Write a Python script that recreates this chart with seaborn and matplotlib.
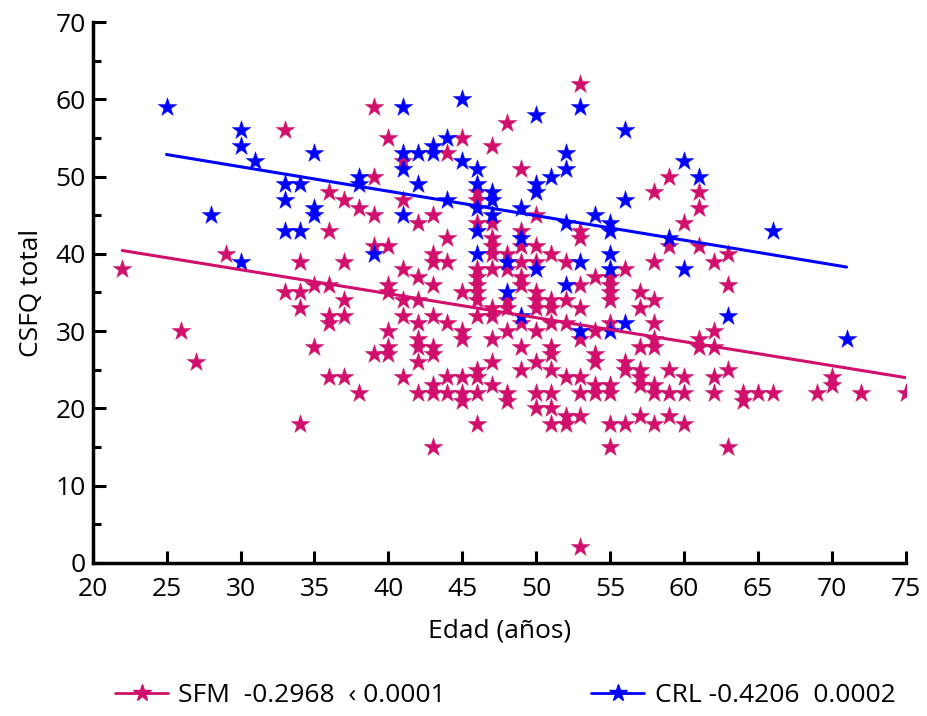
import numpy as np
import pandas as pd
import matplotlib
matplotlib.use("Agg")
import matplotlib.pyplot as plt
import seaborn as sns
from matplotlib.lines import Line2D
from matplotlib.ticker import MultipleLocator

# --- datos (edad, CSFQ total) ---
sfm_points = [
    (22, 38), (26, 30), (27, 26), (29, 40), (33, 56), (33, 35), (34, 39), (34, 35), (34, 33), (34, 18),
    (35, 36), (35, 28), (36, 48), (36, 43), (36, 36), (36, 32), (36, 31), (36, 24), (37, 47), (37, 39),
    (37, 34), (37, 32), (37, 24), (38, 46), (38, 22),
    (39, 59), (39, 50), (39, 45), (39, 41), (39, 27),
    (40, 55), (40, 41), (40, 36), (40, 35), (40, 30), (40, 28), (40, 27),
    (41, 52), (41, 47), (41, 38), (41, 34), (41, 32), (41, 24),
    (42, 44), (42, 37), (42, 34), (42, 31), (42, 29), (42, 28), (42, 26), (42, 22),
    (43, 45), (43, 40), (43, 39), (43, 36), (43, 32), (43, 28), (43, 27), (43, 23), (43, 22), (43, 15),
    (44, 53), (44, 42), (44, 39), (44, 31), (44, 24), (44, 22),
    (45, 55), (45, 35), (45, 30), (45, 29), (45, 24), (45, 22), (45, 21),
    (46, 48), (46, 47), (46, 44), (46, 38), (46, 37), (46, 36), (46, 35), (46, 34), (46, 32), (46, 25),
    (46, 24), (46, 22), (46, 18),
    (47, 54), (47, 44), (47, 42), (47, 41), (47, 40), (47, 38), (47, 33), (47, 32), (47, 29), (47, 26), (47, 23),
    (48, 57), (48, 40), (48, 38), (48, 34), (48, 33), (48, 30), (48, 22), (48, 21),
    (49, 51), (49, 43), (49, 41), (49, 39), (49, 37), (49, 36), (49, 31), (49, 28), (49, 25),
    (50, 45), (50, 41), (50, 39), (50, 35), (50, 34), (50, 33), (50, 30), (50, 26), (50, 22), (50, 20),
    (51, 40), (51, 34), (51, 33), (51, 31), (51, 28), (51, 27), (51, 25), (51, 22), (51, 20), (51, 18),
    (52, 39), (52, 34), (52, 31), (52, 24), (52, 19), (52, 18),
    (53, 62), (53, 43), (53, 42), (53, 36), (53, 33), (53, 29), (53, 24), (53, 22), (53, 19), (53, 2),
    (54, 37), (54, 30), (54, 27), (54, 26), (54, 23), (54, 22),
    (55, 37), (55, 36), (55, 35), (55, 34), (55, 31), (55, 23), (55, 22), (55, 18), (55, 15),
    (56, 38), (56, 26), (56, 25), (56, 18),
    (57, 35), (57, 33), (57, 28), (57, 25), (57, 24), (57, 23), (57, 19),
    (58, 48), (58, 39), (58, 34), (58, 31), (58, 29), (58, 28), (58, 23), (58, 22), (58, 18),
    (59, 50), (59, 41), (59, 25), (59, 22), (59, 19),
    (60, 44), (60, 24), (60, 22), (60, 18),
    (61, 48), (61, 46), (61, 41), (61, 29), (61, 28),
    (62, 39), (62, 30), (62, 28), (62, 24), (62, 22),
    (63, 40), (63, 36), (63, 25), (63, 15),
    (64, 22), (64, 21), (65, 22), (66, 22), (69, 22), (70, 24), (70, 23), (72, 22), (75, 22),
]

crl_points = [
    (25, 59), (28, 45), (30, 56), (30, 54), (30, 39), (31, 52), (33, 49), (33, 47), (33, 43), (34, 49),
    (34, 43), (35, 53), (35, 46), (35, 45), (38, 50), (38, 49), (39, 40), (41, 59), (41, 53), (41, 51),
    (41, 45), (42, 53), (42, 49), (43, 54), (43, 53), (44, 55), (44, 47), (45, 60), (45, 52), (46, 51),
    (46, 49), (46, 46), (46, 43), (46, 40), (47, 48), (47, 47), (47, 45), (48, 39), (48, 35), (49, 46),
    (49, 42), (49, 32), (50, 58), (50, 49), (50, 48), (50, 38), (51, 50), (52, 53), (52, 51), (52, 44),
    (52, 36), (53, 59), (53, 39), (53, 30), (54, 45), (55, 44), (55, 43), (55, 40), (55, 38), (55, 30),
    (56, 56), (56, 47), (56, 31), (59, 42), (60, 52), (60, 38), (61, 50), (63, 32), (66, 43), (71, 29),
]

group_names = ["SFM", "CRL"]
group_labels = ["SFM  -0.2968  \u2039 0.0001", "CRL -0.4206  0.0002"]
group_colors = ["#d0106c", "#0000ff"]

df_sfm = pd.DataFrame(sfm_points, columns=["edad", "csfq"])
df_crl = pd.DataFrame(crl_points, columns=["edad", "csfq"])

sns.set_style("white")
plt.rcParams["font.family"] = ["Open Sans", "DejaVu Sans"]
plt.rcParams["text.color"] = "black"
plt.rcParams["axes.labelcolor"] = "black"
plt.rcParams["xtick.color"] = "black"
plt.rcParams["ytick.color"] = "black"

fig = plt.figure(figsize=(9.27, 7.16), dpi=100)
ax = fig.add_axes([0.100, 0.214, 0.877, 0.755])

for d, c in zip([df_sfm, df_crl], group_colors):
    sns.scatterplot(data=d, x="edad", y="csfq", ax=ax, marker="*", s=200,
                    color=c, edgecolor=c, linewidth=0.3, zorder=3)
    sns.regplot(data=d, x="edad", y="csfq", ax=ax, scatter=False, ci=None,
                truncate=True, color=c, line_kws={"linewidth": 2.2, "zorder": 4})

ax.set_xlim(20, 75)
ax.set_ylim(0, 70)
ax.xaxis.set_major_locator(MultipleLocator(5))
ax.yaxis.set_major_locator(MultipleLocator(10))
ax.yaxis.set_minor_locator(MultipleLocator(5))
ax.tick_params(axis="both", which="major", direction="in", length=9, width=2.2,
               labelsize=19, left=True, bottom=True, pad=5)
ax.tick_params(axis="x", which="major", pad=10)
ax.tick_params(axis="y", which="minor", direction="in", length=6, width=2.2, left=True)
sns.despine(ax=ax)
for s in ["left", "bottom"]:
    ax.spines[s].set_linewidth(2.5)
    ax.spines[s].set_color("black")

ax.set_xlabel("Edad (años)", fontsize=19, labelpad=12)
ax.set_ylabel("CSFQ total", fontsize=19, labelpad=8)

handles = [Line2D([0], [0], color=c, marker="*", markersize=13, linewidth=2)
           for c in group_colors]
fig.legend(handles, group_labels, loc="lower center", ncol=2, frameon=False,
           fontsize=19, bbox_to_anchor=(0.545, -0.022), columnspacing=5.5,
           handlelength=2.0, handletextpad=0.4)

plt.savefig("out.png", dpi=100)
plt.close()
